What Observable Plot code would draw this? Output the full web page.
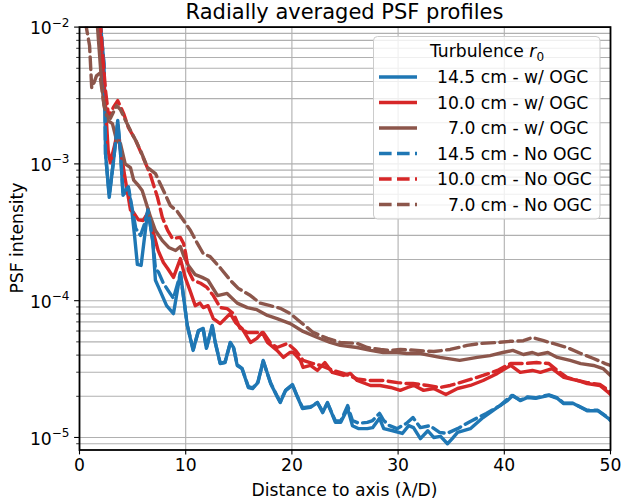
<!DOCTYPE html>
<html><head><meta charset="utf-8">
<script src="https://cdn.jsdelivr.net/npm/d3@7"></script>
<script src="https://cdn.jsdelivr.net/npm/@observablehq/plot@0.6"></script>
<style>body{margin:0;background:#fff}svg{font-family:"DejaVu Sans",sans-serif}</style>
</head><body><div id="chart"></div>
<script>
// [distance (λ/D), PSF intensity]
const blueSolid = [[0,5e-2],[2.0,9.9e-3],[2.3,5.4e-3],[2.4,2.58e-3],[2.45,1.19e-3],[2.8,5.7e-4],[3.2,1.05e-3],[3.6,2.08e-3],[3.85,1.25e-3],[4.1,5.9e-4],[4.6,6.6e-4],[4.9,4.8e-4],[5.2,2.9e-4],[5.45,1.84e-4],[5.8,1.81e-4],[6.45,4.7e-4],[6.9,2.7e-4],[7.15,1.41e-4],[7.45,1.25e-4],[8.2,9.2e-5],[8.85,8.05e-5],[9.5,1.6e-4],[10.15,6.6e-5],[10.7,4.33e-5],[11.2,6.05e-5],[11.65,6.27e-5],[11.95,4.48e-5],[12.5,6.6e-5],[12.8,4.87e-5],[13.25,3.47e-5],[13.7,3.53e-5],[14.2,4.95e-5],[14.5,4.55e-5],[14.85,3.36e-5],[15.3,3.19e-5],[15.9,2.32e-5],[16.3,2.28e-5],[16.8,2.52e-5],[17.3,3.66e-5],[18.0,2.48e-5],[18.65,1.96e-5],[18.9,1.8e-5],[19.4,2.21e-5],[20.05,2.44e-5],[20.45,2.03e-5],[21.0,1.63e-5],[21.75,1.66e-5],[22.4,1.8e-5],[22.9,1.52e-5],[23.35,1.8e-5],[24.1,1.29e-5],[24.6,1.29e-5],[25.25,1.63e-5],[25.7,1.22e-5],[26.3,1.16e-5],[27.1,1.16e-5],[27.6,1.18e-5],[28.25,1.38e-5],[28.65,1.16e-5],[29.5,1.12e-5],[30.4,1.07e-5],[31.0,1.22e-5],[31.45,1.18e-5],[32.1,9.8e-6],[32.8,1.12e-5],[33.35,1.0e-5],[34.0,1.02e-5],[34.65,9.0e-6],[35.1,9.8e-6],[35.6,1.09e-5],[36.8,1.16e-5],[38.0,1.4e-5],[39.35,1.66e-5],[40.3,1.86e-5],[40.8,2.03e-5],[41.5,1.86e-5],[42.2,1.96e-5],[42.95,1.93e-5],[44.2,2.03e-5],[45.0,1.93e-5],[45.6,1.77e-5],[46.5,1.77e-5],[47.8,1.57e-5],[48.8,1.57e-5],[49.8,1.38e-5],[50,1.33e-5]];
const redSolid = [[0,5e-2],[1.9,1.0e-2],[2.15,5.7e-3],[2.45,2.67e-3],[2.7,1.25e-3],[2.9,1.02e-3],[3.3,1.36e-3],[3.6,1.67e-3],[3.95,1.15e-3],[4.3,7.8e-4],[4.8,4.6e-4],[5.1,4.4e-4],[5.55,3.9e-4],[6.0,3.86e-4],[6.4,4.34e-4],[6.9,3.26e-4],[7.4,2.33e-4],[7.9,1.9e-4],[8.3,1.72e-4],[8.85,1.48e-4],[9.5,2.03e-4],[9.95,1.48e-4],[10.4,1.19e-4],[10.9,9.2e-5],[11.35,9.6e-5],[11.65,8.9e-5],[12.1,9.2e-5],[12.6,7.4e-5],[13.25,6.8e-5],[14.2,8.05e-5],[14.7,6.9e-5],[15.3,6.27e-5],[16.1,4.95e-5],[16.7,5.3e-5],[17.2,5.86e-5],[17.7,4.95e-5],[18.6,4.33e-5],[19.2,3.85e-5],[19.8,4.18e-5],[20.1,4.2e-5],[20.8,3.66e-5],[21.05,3.25e-5],[21.75,3.36e-5],[22.4,3.09e-5],[23.1,3.53e-5],[23.8,2.99e-5],[24.85,2.84e-5],[25.5,2.94e-5],[26.15,2.61e-5],[27.4,2.4e-5],[28.3,2.4e-5],[29.3,2.32e-5],[30.2,2.21e-5],[30.9,2.32e-5],[31.5,2.4e-5],[32.4,2.21e-5],[33.35,2.28e-5],[34.5,2.06e-5],[35.6,2.28e-5],[36.8,2.4e-5],[38.0,2.61e-5],[39.35,2.94e-5],[40.6,3.36e-5],[41.5,2.99e-5],[42.65,3.09e-5],[43.4,2.99e-5],[44.5,3.19e-5],[45.6,2.75e-5],[46.9,2.61e-5],[47.8,2.48e-5],[49.0,2.4e-5],[49.8,2.13e-5],[50,2.06e-5]];
const brownSolid = [[0,5e-2],[1.7,9.9e-3],[2.0,4.8e-3],[2.3,2.67e-3],[2.65,2.08e-3],[3.1,1.97e-3],[3.5,1.48e-3],[3.85,1.41e-3],[4.3,1.0e-3],[4.8,9.4e-4],[5.1,7.6e-4],[5.55,6.95e-4],[5.9,6.4e-4],[6.2,5.4e-4],[6.7,4.06e-4],[7.15,3.26e-4],[7.8,2.75e-4],[8.4,2.45e-4],[9.05,2.33e-4],[9.5,2.49e-4],[9.8,2.14e-4],[10.25,1.81e-4],[10.9,1.55e-4],[11.55,1.48e-4],[12.1,1.41e-4],[13.0,1.09e-4],[13.9,1.13e-4],[14.85,9.6e-5],[15.8,8.9e-5],[16.7,8.6e-5],[17.7,7.8e-5],[18.6,7.4e-5],[19.85,6.8e-5],[21.05,5.96e-5],[22.4,5.38e-5],[23.6,4.95e-5],[24.55,4.71e-5],[26.15,4.55e-5],[27.4,4.33e-5],[28.6,4.18e-5],[29.95,4.18e-5],[30.8,4.11e-5],[32.1,4.11e-5],[33.95,3.85e-5],[35.8,3.66e-5],[37.45,3.85e-5],[38.65,3.97e-5],[39.85,4.18e-5],[40.8,4.33e-5],[41.8,4.04e-5],[42.65,4.18e-5],[43.2,4.04e-5],[44.1,4.18e-5],[45.0,3.85e-5],[46.2,3.66e-5],[47.2,3.47e-5],[48.4,3.36e-5],[49.3,3.19e-5],[49.8,2.94e-5],[50,2.84e-5]];
const blueDashed = [[0,5e-2],[2.0,9.9e-3],[2.3,5.4e-3],[2.4,2.58e-3],[2.45,1.19e-3],[2.8,5.9e-4],[3.2,1.05e-3],[3.6,2.0e-3],[3.85,1.25e-3],[4.1,6.1e-4],[4.6,6.8e-4],[4.9,5.0e-4],[5.3,3.37e-4],[5.75,3.0e-4],[6.1,3.6e-4],[6.45,4.6e-4],[6.9,2.75e-4],[7.15,1.72e-4],[7.45,1.61e-4],[7.9,1.34e-4],[8.4,1.17e-4],[8.85,1.04e-4],[9.2,1.3e-4],[9.5,1.58e-4],[10.15,6.6e-5],[10.7,4.4e-5],[11.2,6.0e-5],[11.65,6.2e-5],[11.95,4.5e-5],[12.5,6.5e-5],[12.8,4.9e-5],[13.25,3.5e-5],[13.7,3.55e-5],[14.2,4.9e-5],[14.5,4.6e-5],[14.85,3.4e-5],[15.3,3.2e-5],[15.9,2.35e-5],[16.3,2.3e-5],[16.8,2.55e-5],[17.3,3.6e-5],[18.0,2.5e-5],[18.65,1.98e-5],[18.9,1.82e-5],[19.4,2.2e-5],[20.05,2.42e-5],[20.45,2.05e-5],[21.0,1.65e-5],[21.75,1.68e-5],[22.4,1.8e-5],[22.9,1.55e-5],[23.35,1.78e-5],[24.1,1.32e-5],[24.6,1.32e-5],[25.25,1.71e-5],[25.7,1.33e-5],[26.3,1.27e-5],[27.1,1.29e-5],[27.6,1.33e-5],[28.25,1.5e-5],[28.65,1.33e-5],[29.2,1.22e-5],[29.9,1.16e-5],[30.8,1.27e-5],[31.4,1.4e-5],[32.1,1.18e-5],[33.0,1.22e-5],[33.9,1.09e-5],[34.6,1.07e-5],[35.6,1.16e-5],[36.8,1.31e-5],[38.3,1.5e-5],[39.6,1.71e-5],[40.7,2.03e-5],[41.5,1.88e-5],[42.2,1.98e-5],[42.95,1.95e-5],[44.2,2.05e-5],[45.0,1.95e-5],[45.6,1.78e-5],[46.5,1.78e-5],[47.8,1.58e-5],[48.8,1.58e-5],[49.8,1.39e-5],[50,1.34e-5]];
const redDashed = [[0,5e-2],[2.0,9.9e-3],[2.15,6.75e-3],[2.45,3.44e-3],[2.75,2.2e-3],[3.2,2.6e-3],[3.6,2.9e-3],[4.15,2.34e-3],[4.6,1.85e-3],[5.3,1.48e-3],[6.0,1.11e-3],[6.7,8.2e-4],[7.35,5.68e-4],[7.8,4.06e-4],[8.3,3.26e-4],[8.75,2.85e-4],[9.5,2.9e-4],[9.8,2.62e-4],[10.0,2.21e-4],[10.25,1.66e-4],[10.7,1.41e-4],[11.4,1.34e-4],[12.0,1.25e-4],[12.6,1.09e-4],[13.25,8.9e-5],[13.9,8.75e-5],[14.5,8.05e-5],[15.1,6.3e-5],[15.8,5.86e-5],[16.7,5.86e-5],[17.3,5.86e-5],[18.0,4.87e-5],[18.6,4.55e-5],[19.6,4.87e-5],[20.35,4.33e-5],[21.05,3.66e-5],[22.0,3.47e-5],[22.7,3.36e-5],[23.9,3.09e-5],[24.85,2.94e-5],[26.15,2.68e-5],[27.4,2.61e-5],[28.6,2.61e-5],[29.95,2.52e-5],[30.8,2.48e-5],[31.4,2.48e-5],[32.8,2.4e-5],[33.95,2.32e-5],[34.9,2.4e-5],[36.5,2.61e-5],[38.0,2.84e-5],[39.35,3.09e-5],[40.6,3.47e-5],[41.8,3.47e-5],[43.05,3.53e-5],[44.2,3.47e-5],[45.0,3.09e-5],[45.9,2.75e-5],[46.9,2.61e-5],[47.8,2.52e-5],[49.0,2.44e-5],[49.8,2.21e-5],[50,2.13e-5]];
const brownDashed = [[0,5e-2],[0.65,9.9e-3],[0.95,7.3e-3],[1.15,3.6e-3],[1.35,3.9e-3],[1.6,4.4e-3],[1.9,4.6e-3],[2.25,2.91e-3],[2.55,2.26e-3],[2.9,2.15e-3],[3.5,2.67e-3],[3.85,2.5e-3],[4.3,2.1e-3],[4.8,1.75e-3],[5.3,1.48e-3],[5.75,1.25e-3],[6.4,9.4e-4],[7.15,8.5e-4],[7.9,6.4e-4],[8.55,4.96e-4],[9.2,4.5e-4],[9.8,3.86e-4],[10.45,3.26e-4],[11.1,2.62e-4],[11.65,2.21e-4],[12.3,2.1e-4],[13.3,1.72e-4],[14.2,1.41e-4],[14.95,1.23e-4],[16.1,1.09e-4],[17.0,9.6e-5],[17.95,9.2e-5],[18.9,8.8e-5],[19.85,8.05e-5],[20.6,7.2e-5],[22.0,5.86e-5],[23.35,5.3e-5],[24.55,4.95e-5],[26.15,4.87e-5],[27.1,4.55e-5],[28.35,4.4e-5],[29.3,4.33e-5],[30.2,4.4e-5],[31.8,4.33e-5],[33.35,4.25e-5],[34.9,4.4e-5],[36.5,4.71e-5],[37.75,4.87e-5],[39.35,4.95e-5],[40.6,5.05e-5],[41.8,5.1e-5],[42.65,5.38e-5],[43.7,5.1e-5],[44.6,4.87e-5],[45.9,4.55e-5],[47.2,4.11e-5],[48.4,3.78e-5],[49.5,3.47e-5],[50,3.36e-5]];

const seriesLabels = ["14.5 cm - w/ OGC","10.0 cm - w/ OGC","7.0 cm - w/ OGC","14.5 cm - No OGC","10.0 cm - No OGC","7.0 cm - No OGC"];
const seriesData = [blueSolid, redSolid, brownSolid, blueDashed, redDashed, brownDashed];
const seriesColors = ["#1f77b4","#d62728","#8c564b","#1f77b4","#d62728","#8c564b"];
const seriesDashed = [false,false,false,true,true,true];

const xTicks = [0,10,20,30,40,50];
const yMajorTicks = [1e-2,1e-3,1e-4,1e-5];
const yTickExponents = ["\u22122","\u22123","\u22124","\u22125"];
const yMinorTicks = [9e-6,2e-5,3e-5,4e-5,5e-5,6e-5,7e-5,8e-5,9e-5,2e-4,3e-4,4e-4,5e-4,6e-4,7e-4,8e-4,9e-4,2e-3,3e-3,4e-3,5e-3,6e-3,7e-3,8e-3,9e-3];

const titleText = "Radially averaged PSF profiles";
const xLabel = "Distance to axis (\u03bb/D)";
const yLabel = "PSF intensity";

const FS = 17.2;
const LW = 3.4;
const DASH = "12.6,5.4";
const gridStyle = {stroke:"#b0b0b0", strokeOpacity:1, strokeWidth:1.1};

const chart = Plot.plot({
  width: 622, height: 502,
  marginLeft: 79, marginRight: 12, marginTop: 26.6, marginBottom: 52.5,
  style: {fontFamily: "DejaVu Sans", fontSize: FS + "px", background: "white", color: "black", overflow: "visible"},
  x: {domain: [0, 50]},
  y: {type: "log", domain: [8.1e-6, 1e-2]},
  marks: [
    Plot.gridY(yMinorTicks, gridStyle),
    Plot.gridY(yMajorTicks, gridStyle),
    Plot.gridX(xTicks, gridStyle),
    ...seriesData.map((data, i) => Plot.line(data, {
      x: d => d[0], y: d => d[1], stroke: seriesColors[i], strokeWidth: LW,
      strokeDasharray: seriesDashed[i] ? DASH : null, strokeLinejoin: "round", clip: true
    })),
    Plot.axisX(xTicks, {tickSize: 4.9, tickPadding: 4.2, strokeWidth: 1.1, label: null, fontSize: FS}),
    Plot.axisY(yMajorTicks, {tickSize: 4.9, strokeWidth: 1.1, tickFormat: () => "", label: null}),
    Plot.axisY(yMinorTicks, {tickSize: 2.8, strokeWidth: 0.8, tickFormat: () => "", label: null}),
    Plot.frame({stroke: "black", strokeWidth: 1.8})
  ]
});
document.getElementById("chart").appendChild(chart);

const svg = d3.select(chart);
const yS = chart.scale("y");
const xS = chart.scale("x");
const cx = (xS.apply(0) + xS.apply(50)) / 2;

// y tick labels with superscripts
yMajorTicks.forEach((v, i) => {
  const t = svg.append("text").attr("x", 69.5).attr("y", yS.apply(v) + 7.8)
    .attr("text-anchor", "end").attr("font-size", FS).attr("fill", "black");
  t.append("tspan").text("10");
  t.append("tspan").attr("dy", -7.8).attr("font-size", FS * 0.7).text(yTickExponents[i]);
});

// title and axis labels
svg.append("text").attr("x", cx).attr("y", 19).attr("text-anchor", "middle")
  .attr("font-size", 21).attr("fill", "black").text(titleText);
svg.append("text").attr("x", cx).attr("y", 496).attr("text-anchor", "middle")
  .attr("font-size", FS).attr("fill", "black").text(xLabel);
svg.append("text").attr("transform", `translate(22.5,${(yS.apply(1e-2) + yS.apply(8.1e-6)) / 2}) rotate(-90)`)
  .attr("text-anchor", "middle").attr("font-size", FS).attr("fill", "black").text(yLabel);

// legend
const LFS = 17.2;
const lg = svg.append("g").attr("text-anchor", "start");
lg.append("rect").attr("x", 373.5).attr("y", 36.5).attr("width", 226.5).attr("height", 182.5)
  .attr("rx", 4).attr("fill", "white").attr("fill-opacity", 0.8).attr("stroke", "#cccccc").attr("stroke-width", 1);
const lt = lg.append("text").attr("x", 487).attr("y", 56.5).attr("text-anchor", "middle")
  .attr("font-size", LFS).attr("fill", "black");
lt.append("tspan").text("Turbulence ");
lt.append("tspan").attr("font-style", "italic").text("r");
lt.append("tspan").attr("dy", 4).attr("font-size", LFS * 0.7).text("0");
seriesLabels.forEach((label, i) => {
  const cy = 77 + i * 25.5;
  lg.append("line").attr("x1", 379).attr("x2", 417).attr("y1", cy).attr("y2", cy)
    .attr("stroke", seriesColors[i]).attr("stroke-width", LW)
    .attr("stroke-dasharray", seriesDashed[i] ? DASH : null);
  const lx = label.startsWith("7.0") ? 448 : 437;
  lg.append("text").attr("x", lx).attr("y", cy + 6).attr("text-anchor", "start")
    .attr("font-size", LFS).attr("fill", "black").text(label);
});
</script>
</body></html>
